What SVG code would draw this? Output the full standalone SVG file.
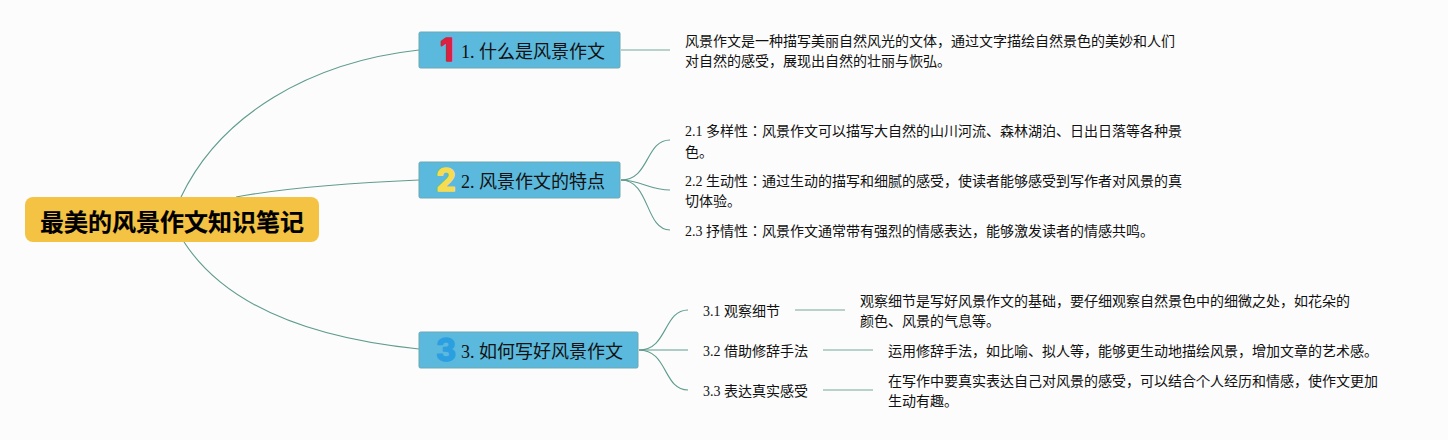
<svg xmlns="http://www.w3.org/2000/svg" width="1448" height="440" viewBox="0 0 1448 440">
<style>
text{font-family:"Liberation Serif","Noto Sans CJK JP",sans-serif;fill:#111}
.b{font-size:14px}
.h{font-size:18px}
text.r{font-size:24px;font-weight:700;fill:#000;stroke:#000;stroke-width:.2}
.box{fill:#5ab9dc;stroke:#6fa9b0;stroke-width:1}
.c path{fill:none;stroke:#5f9c8e;stroke-width:1.1}
.l path{fill:none;stroke:#9fc4bb;stroke-width:1.5}
text.n{font-family:"Inter","Liberation Sans",sans-serif;font-size:31px;font-weight:700;text-anchor:middle;stroke-width:1.6;stroke-linejoin:round}
text.n1{fill:#dc2042;stroke:#dc2042}
text.n2{fill:#f7dc50;stroke:#f7dc50}
text.n3{fill:#2c9fe0;stroke:#2c9fe0}
</style>
<rect width="1448" height="440" fill="#fcfcfc"/>
<g id="connectors">
<g class="c">
<path d="M181 197C220 115 310 62 419 50"/>
<path d="M236 197C290 187 350 183 419 180"/>
<path d="M184 242C225 305 310 338 419 349"/>
<path d="M621 180C650 180 645 140 670 140"/>
<path d="M621 180C640 180 650 190 670 190"/>
<path d="M621 180C650 180 645 230 670 230"/>
<path d="M639 350C668 350 663 310 688 310"/>
<path d="M639 350H688"/>
<path d="M639 350C668 350 663 390 688 390"/>
</g>
<g class="l">
<path d="M621 50H670"/>
<path d="M795 310H845"/>
<path d="M823 350H873"/>
<path d="M823 390H873"/>
</g>
</g>
<g id="root"><rect x="25" y="197" width="294" height="45" rx="8" fill="#f5c344"/><text class="r" x="40" y="231">最美的风景作文知识笔记</text></g>
<g id="n1"><rect class="box" x="419" y="32" width="201" height="36" rx="1.5"/><text class="n n1" x="447" y="61">1</text><text class="h" x="461" y="58">1. 什么是风景作文</text></g>
<g id="n2"><rect class="box" x="419" y="162" width="201" height="36" rx="1.5"/><text class="n n2" x="446" y="191">2</text><text class="h" x="461" y="188">2. 风景作文的特点</text></g>
<g id="n3"><rect class="box" x="419" y="332" width="219" height="36" rx="1.5"/><text class="n n3" x="446" y="361">3</text><text class="h" x="461" y="358">3. 如何写好风景作文</text></g>
<g id="t1"><text class="b" x="685" y="46">风景作文是一种描写美丽自然风光的文体，通过文字描绘自然景色的美妙和人们</text><text class="b" x="685" y="66">对自然的感受，展现出自然的壮丽与恢弘。</text></g>
<g id="t21"><text class="b" x="685" y="136">2.1 多样性：风景作文可以描写大自然的山川河流、森林湖泊、日出日落等各种景</text><text class="b" x="685" y="157">色。</text></g>
<g id="t22"><text class="b" x="685" y="186">2.2 生动性：通过生动的描写和细腻的感受，使读者能够感受到写作者对风景的真</text><text class="b" x="685" y="206">切体验。</text></g>
<g id="t23"><text class="b" x="685" y="236">2.3 抒情性：风景作文通常带有强烈的情感表达，能够激发读者的情感共鸣。</text></g>
<g id="n31"><text class="b" x="703" y="316">3.1 观察细节</text></g>
<g id="n32"><text class="b" x="703" y="356">3.2 借助修辞手法</text></g>
<g id="n33"><text class="b" x="703" y="396">3.3 表达真实感受</text></g>
<g id="t31"><text class="b" x="860" y="306">观察细节是写好风景作文的基础，要仔细观察自然景色中的细微之处，如花朵的</text><text class="b" x="860" y="326">颜色、风景的气息等。</text></g>
<g id="t32"><text class="b" x="888" y="356">运用修辞手法，如比喻、拟人等，能够更生动地描绘风景，增加文章的艺术感。</text></g>
<g id="t33"><text class="b" x="888" y="386">在写作中要真实表达自己对风景的感受，可以结合个人经历和情感，使作文更加</text><text class="b" x="888" y="406">生动有趣。</text></g>
</svg>
